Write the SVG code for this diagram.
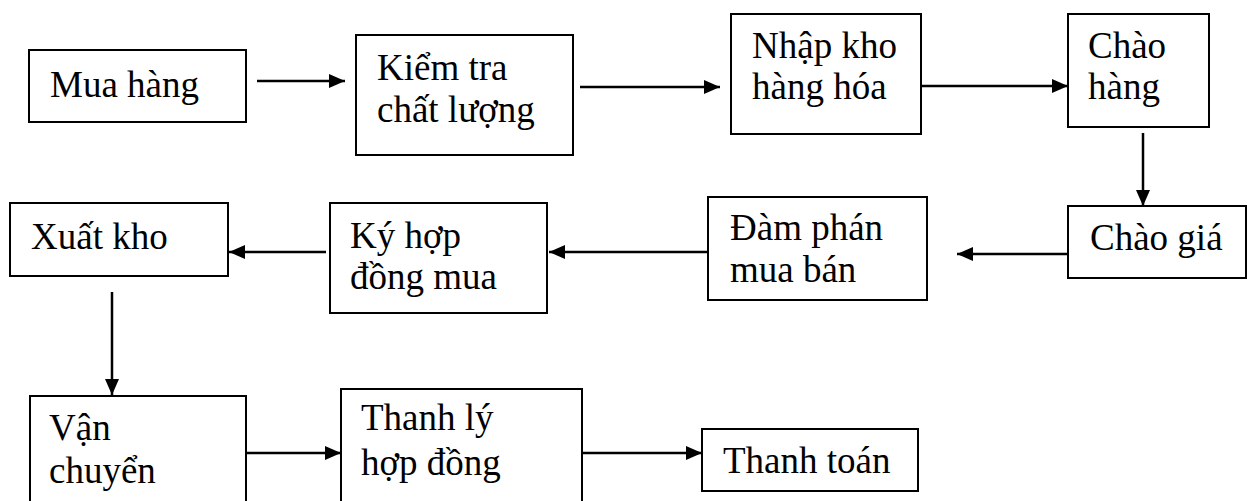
<svg xmlns="http://www.w3.org/2000/svg" width="1248" height="501" viewBox="0 0 1248 501">
<style>
.box{fill:#fff;stroke:#000;stroke-width:2}
.lbl{font-family:"Liberation Serif","Times New Roman",serif;font-size:37px;fill:#000}
.con{stroke:#000;stroke-width:2.5;fill:none;marker-end:url(#ah)}
</style>
<defs>
<marker id="ah" markerUnits="userSpaceOnUse" markerWidth="16" markerHeight="14" refX="16" refY="7" orient="auto">
<path d="M0,0 L16,7 L0,14 z" fill="#000"/>
</marker>
</defs>
<rect width="1248" height="501" fill="#fff"/>
<g id="connectors">
<line class="con" x1="257" y1="81" x2="345" y2="81"/>
<line class="con" x1="580" y1="87" x2="720" y2="87"/>
<line class="con" x1="917" y1="86" x2="1068" y2="86"/>
<line class="con" x1="1143" y1="133" x2="1143" y2="206"/>
<line class="con" x1="1068" y1="254" x2="957" y2="254"/>
<line class="con" x1="708" y1="252" x2="549" y2="252"/>
<line class="con" x1="326" y1="252" x2="229" y2="252"/>
<line class="con" x1="112" y1="292" x2="112" y2="395"/>
<line class="con" x1="246" y1="453" x2="341" y2="453"/>
<line class="con" x1="582" y1="453" x2="702" y2="453"/>
</g>
<g id="mua-hang"><rect class="box" x="29" y="50" width="217" height="72"/><text class="lbl" x="50" y="97">Mua hàng</text></g>
<g id="kiem-tra"><rect class="box" x="356" y="35" width="217" height="120"/><text class="lbl" x="377" y="80">Kiểm tra</text><text class="lbl" x="377" y="122">chất lượng</text></g>
<g id="nhap-kho"><rect class="box" x="731" y="14" width="190" height="120"/><text class="lbl" x="752" y="58">Nhập kho</text><text class="lbl" x="752" y="99">hàng hóa</text></g>
<g id="chao-hang"><rect class="box" x="1068" y="14" width="141" height="113"/><text class="lbl" x="1088" y="58">Chào</text><text class="lbl" x="1088" y="99">hàng</text></g>
<g id="chao-gia"><rect class="box" x="1068" y="206" width="178" height="72"/><text class="lbl" x="1090" y="250">Chào giá</text></g>
<g id="dam-phan"><rect class="box" x="708" y="197" width="219" height="103"/><text class="lbl" x="730" y="240">Đàm phán</text><text class="lbl" x="730" y="282">mua bán</text></g>
<g id="ky-hop-dong"><rect class="box" x="330" y="203" width="217" height="110"/><text class="lbl" x="350" y="248">Ký hợp</text><text class="lbl" x="350" y="289">đồng mua</text></g>
<g id="xuat-kho"><rect class="box" x="10" y="203" width="218" height="73"/><text class="lbl" x="31" y="249">Xuất kho</text></g>
<g id="van-chuyen"><rect class="box" x="30" y="396" width="216" height="108"/><text class="lbl" x="49" y="440">Vận</text><text class="lbl" x="49" y="483">chuyển</text></g>
<g id="thanh-ly"><rect class="box" x="341" y="389" width="241" height="115"/><text class="lbl" x="361" y="430">Thanh lý</text><text class="lbl" x="361" y="475">hợp đồng</text></g>
<g id="thanh-toan"><rect class="box" x="702" y="429" width="216" height="62"/><text class="lbl" x="723" y="473">Thanh toán</text></g>
</svg>
